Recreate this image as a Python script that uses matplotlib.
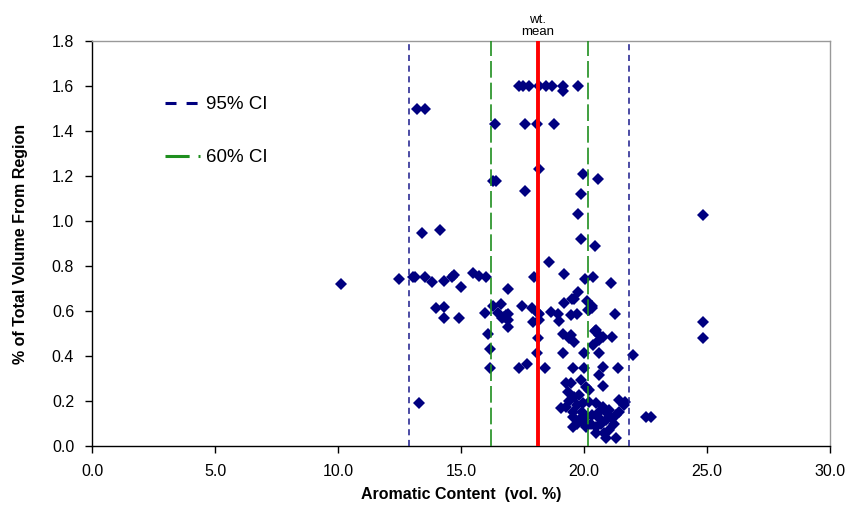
import matplotlib
matplotlib.use("Agg")
import matplotlib.pyplot as plt
from matplotlib.lines import Line2D

plt.rcParams['font.family'] = ['Liberation Sans', 'DejaVu Sans']

# ---- data ----
aromatic = [
    17.36, 17.50, 17.77, 18.18, 18.45, 18.69, 19.16, 19.16, 19.77,
    13.20, 13.51,
    16.39, 17.58, 18.08, 18.76,
    18.18, 19.96, 16.28, 16.42, 20.57, 17.58, 19.87, 19.77, 19.87, 20.45,
    13.41, 14.12,
    24.85, 24.85, 24.85,
    18.56,
    10.11, 12.49, 13.03, 13.13, 13.52, 13.82, 14.29, 14.62, 14.71, 15.01, 15.50, 15.71,
    16.01, 16.89, 17.97, 19.19, 20.03, 20.37, 21.09,
    19.77, 19.50, 19.60, 19.19, 20.11, 20.32, 20.20,
    13.98, 14.32, 14.29, 14.92, 15.97, 16.28, 16.62, 16.48, 16.76, 16.89, 16.89, 16.89,
    16.66, 16.83,
    17.47, 17.88, 18.18, 17.91, 18.18, 18.11, 18.65, 18.92, 18.99, 19.46, 19.73, 21.26,
    20.14, 20.34,
    19.16, 19.40, 19.60, 20.45, 20.75, 20.59, 20.37, 21.15, 16.08, 16.18, 18.11, 18.07,
    19.16, 19.98, 20.59, 21.97,
    19.46, 20.48, 20.61,
    16.19, 17.36, 17.68, 18.41, 19.56, 19.98, 20.78, 21.38, 20.59, 20.78, 13.30,
    19.26, 19.46, 19.87, 20.07, 19.33, 19.60, 19.80, 19.06, 19.26, 19.53, 19.73, 20.20,
    20.48, 20.75, 21.02, 21.43, 21.63, 19.53, 19.80, 20.07, 20.34, 20.61, 20.89, 21.29,
    21.43, 19.53, 20.07, 20.48, 21.02, 20.89, 21.29, 22.51, 22.71,
    19.40, 19.90, 20.00, 20.30, 20.60, 20.70, 20.90, 21.10, 21.20, 20.50, 20.80, 19.70,
    19.95, 20.20, 21.66,
]
volume_pct = [
    1.60, 1.60, 1.60, 1.60, 1.60, 1.60, 1.60, 1.58, 1.60,
    1.50, 1.50,
    1.43, 1.43, 1.43, 1.43,
    1.23, 1.21, 1.18, 1.18, 1.185, 1.135, 1.12, 1.03, 0.92, 0.89,
    0.948, 0.961,
    1.027, 0.551, 0.479,
    0.82,
    0.72, 0.742, 0.752, 0.752, 0.752, 0.727, 0.733, 0.752, 0.76, 0.708, 0.768, 0.756,
    0.752, 0.696, 0.75, 0.763, 0.741, 0.752, 0.723,
    0.686, 0.653, 0.653, 0.634, 0.644, 0.622, 0.604,
    0.612, 0.619, 0.57, 0.567, 0.59, 0.622, 0.631, 0.59, 0.575, 0.585, 0.56, 0.528,
    0.567, 0.582,
    0.622, 0.615, 0.585, 0.552, 0.56, 0.59, 0.597, 0.587, 0.556, 0.582, 0.585, 0.585,
    0.604, 0.615,
    0.50, 0.479, 0.464, 0.512, 0.486, 0.471, 0.449, 0.483, 0.50, 0.431, 0.481, 0.415,
    0.415, 0.415, 0.412, 0.404,
    0.493, 0.516, 0.493,
    0.348, 0.345, 0.364, 0.348, 0.348, 0.348, 0.35, 0.348, 0.316, 0.268, 0.193,
    0.279, 0.279, 0.293, 0.264, 0.241, 0.219, 0.227, 0.168, 0.175, 0.152, 0.182, 0.197,
    0.19, 0.175, 0.16, 0.204, 0.182, 0.13, 0.116, 0.13, 0.138, 0.123, 0.116, 0.138,
    0.152, 0.086, 0.086, 0.086, 0.071, 0.034, 0.034, 0.128, 0.128,
    0.20, 0.15, 0.10, 0.10, 0.15, 0.10, 0.15, 0.13, 0.10, 0.06, 0.06, 0.10,
    0.19, 0.25, 0.195,
]
wt_mean = 18.12
ci95 = [12.88, 21.84]
ci60 = [16.22, 20.16]
x_ticks = [0.0, 5.0, 10.0, 15.0, 20.0, 25.0, 30.0]
y_ticks = [0.0, 0.2, 0.4, 0.6, 0.8, 1.0, 1.2, 1.4, 1.6, 1.8]

# ---- figure ----
fig = plt.figure(figsize=(8.51, 5.08), dpi=100)
ax = fig.add_axes([92.3 / 851, 62 / 508, (830 - 92.3) / 851, (446 - 41) / 508])

ax.plot(aromatic, volume_pct, linestyle='none', marker='D', markersize=6.2,
        color='#000080', markeredgewidth=0, zorder=2)

for v in ci95:
    ax.axvline(v, color='#1a1a8c', linewidth=1.1, dashes=(4, 3), zorder=3)
for v in ci60:
    ax.axvline(v, color='#1f8f1f', linewidth=1.2, dashes=(10, 3), zorder=3)
ax.axvline(wt_mean, color='#ff0000', linewidth=2.8, zorder=4)

ax.text(wt_mean, 1.812, 'wt.\nmean', ha='center', va='bottom', fontsize=9.5,
        linespacing=1.05, transform=ax.transData)

ax.set_xlim(0, 30)
ax.set_ylim(0, 1.8)
ax.set_xticks(x_ticks)
ax.set_xticklabels([f'{v:.1f}' for v in x_ticks])
ax.set_yticks(y_ticks)
ax.set_yticklabels([f'{v:.1f}' for v in y_ticks])
ax.tick_params(axis='both', direction='out', length=5, width=1, labelsize=11.5,
               pad=8, colors='black')

for s in ['left', 'bottom']:
    ax.spines[s].set_color('black')
    ax.spines[s].set_linewidth(1.0)
for s in ['top', 'right']:
    ax.spines[s].set_color('#999999')
    ax.spines[s].set_linewidth(1.0)

ax.set_xlabel('Aromatic Content  (vol. %)', fontsize=11.5, fontweight='bold', labelpad=6)
ax.set_ylabel('% of Total Volume From Region', fontsize=11.5, fontweight='bold', labelpad=17)

h95 = Line2D([], [], color='#000080', linewidth=2.2, dashes=(3.6, 3.3))
h60 = Line2D([], [], color='#1f8f1f', linewidth=2.2, dashes=(7.9, 2.9))
ax.legend([h95, h60], ['95% CI', '60% CI'], loc='upper left',
          bbox_to_anchor=(0.075, 0.905), frameon=False, fontsize=13.5,
          handlelength=1.9, handletextpad=0.3, labelspacing=1.9)

fig.savefig('out.png', dpi=100)
